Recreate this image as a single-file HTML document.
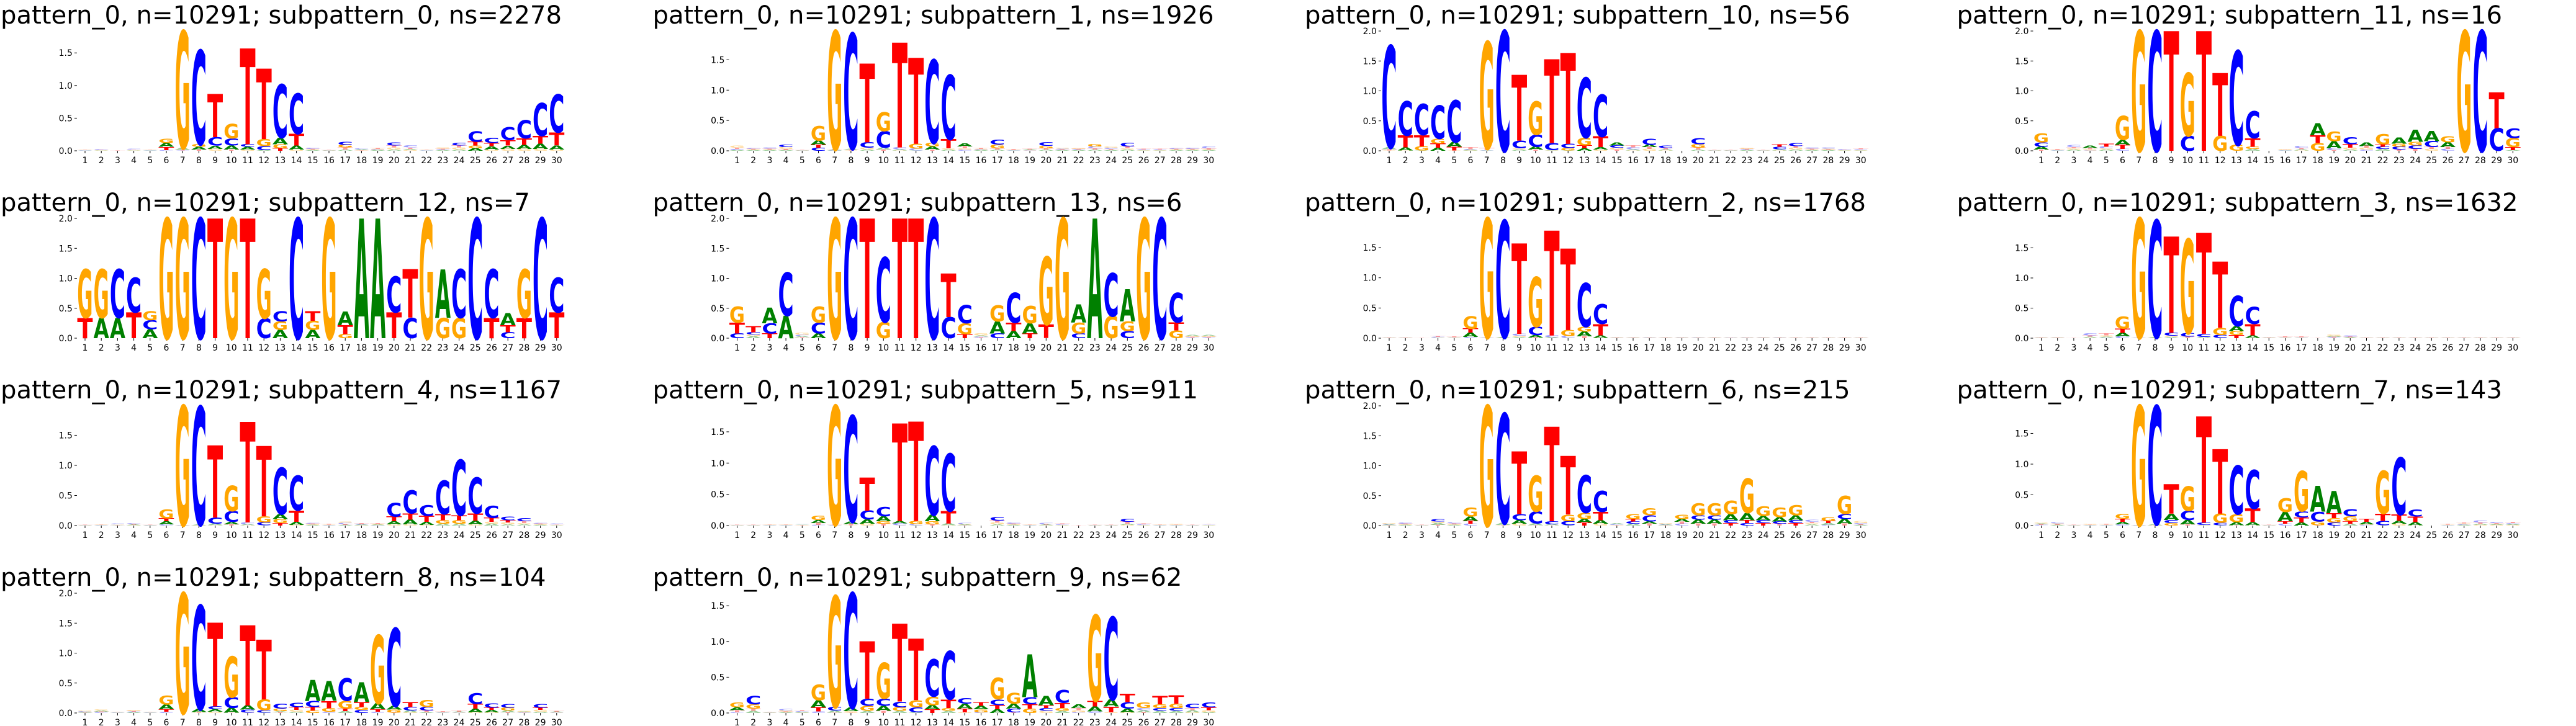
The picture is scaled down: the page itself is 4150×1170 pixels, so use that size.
<!DOCTYPE html>
<html><head><meta charset="utf-8">
<style>
html,body{margin:0;padding:0;background:#fff;}
svg{display:block;}
</style></head>
<body>
<svg id="fig" width="4150" height="1170" xmlns="http://www.w3.org/2000/svg"></svg>
<script>
// Position categories
const positions = [1,2,3,4,5,6,7,8,9,10,11,12,13,14,15,16,17,18,19,20,21,22,23,24,25,26,27,28,29,30];
const letters = ['A','C','G','T'];
const yTickValues = [0, 0.5, 1.0, 1.5, 2.0];
const yTickLabels = ['0.0','0.5','1.0','1.5','2.0'];
const titles = [
 'pattern_0, n=10291; subpattern_0, ns=2278','pattern_0, n=10291; subpattern_1, ns=1926',
 'pattern_0, n=10291; subpattern_10, ns=56','pattern_0, n=10291; subpattern_11, ns=16',
 'pattern_0, n=10291; subpattern_12, ns=7','pattern_0, n=10291; subpattern_13, ns=6',
 'pattern_0, n=10291; subpattern_2, ns=1768','pattern_0, n=10291; subpattern_3, ns=1632',
 'pattern_0, n=10291; subpattern_4, ns=1167','pattern_0, n=10291; subpattern_5, ns=911',
 'pattern_0, n=10291; subpattern_6, ns=215','pattern_0, n=10291; subpattern_7, ns=143',
 'pattern_0, n=10291; subpattern_8, ns=104','pattern_0, n=10291; subpattern_9, ns=62'];
// Per-position heights [A, C, G, T] in bits
const sp0 = [[.005,.005,.005,.005],[.005,.01,.005,.005],[.002,.002,.002,.006],[.005,.01,.005,.008],[.004,.004,.004,.008],[.06,.01,.07,.05],[.03,.005,1.79,.01],[.04,1.44,.04,.02],[.05,.13,.03,.66],[.06,.11,.22,.02],[.04,.04,.02,1.47],[.01,.06,.11,1.08],[.10,.82,.06,.04],[.06,.62,.02,.18],[.01,.015,.01,.01],[.003,.003,.003,.008],[.02,.05,.04,.03],[.01,.01,.005,.008],[.01,.01,.01,.012],[.02,.05,.03,.03],[.02,.03,.01,.02],[.005,.005,.005,.008],[.01,.01,.02,.012],[.02,.04,.03,.03],[.04,.16,.04,.06],[.05,.08,.02,.05],[.05,.20,.03,.08],[.06,.28,.03,.10],[.08,.50,.03,.12],[.06,.58,.02,.20]];
const sp1 = [[.01,.02,.03,.02],[.01,.015,.01,.01],[.01,.02,.01,.015],[.01,.04,.03,.02],[.003,.003,.003,.003],[.07,.05,.24,.05],[.01,.005,1.95,.01],[.02,1.9,.005,.01],[.02,.09,.03,1.3],[.03,.27,.31,.02],[.02,.03,.005,1.73],[.005,.03,.08,1.42],[.05,1.37,.06,.02],[.02,1.06,.02,.15],[.05,.02,.02,.03],[.01,.01,.01,.015],[.02,.08,.06,.02],[.005,.005,.005,.01],[.01,.005,.005,.01],[.02,.06,.04,.02],[.01,.015,.015,.01],[.01,.01,.015,.01],[.02,.03,.04,.02],[.015,.02,.02,.015],[.02,.06,.02,.03],[.005,.01,.005,.01],[.005,.01,.005,.01],[.01,.015,.01,.01],[.01,.02,.01,.01],[.01,.03,.01,.02]];
const sp10 = [[.03,1.7,.005,.02],[.05,.57,.005,.2],[.005,.52,.07,.19],[.05,.55,.08,.07],[.08,.70,.005,.06],[.01,.01,.005,.03],[.005,.005,1.78,.03],[0,2.0,0,0],[.02,.13,.02,1.1],[.05,.2,.55,.02],[.005,.12,.005,1.4],[.005,.07,.04,1.52],[.04,1.0,.13,.05],[.04,.70,.02,.18],[.05,.04,.03,.02],[.02,.03,.005,.03],[.04,.10,.03,.03],[.02,.04,.005,.02],[0,0,0,0],[.02,.10,.06,.03],[.003,.003,.003,.003],[.003,.003,.003,.005],[.01,.01,.02,.01],[.003,.003,.003,.005],[.02,.04,.005,.04],[.02,.05,.03,.03],[.01,.02,.01,.015],[.01,.02,.015,.01],[.005,.015,.005,.005],[.005,.015,.005,.015]];
const sp11 = [[.05,.07,.15,.02],[.005,.005,.005,.01],[.02,.03,.02,.02],[.04,.005,.02,.02],[.02,.03,.02,.05],[.08,.03,.4,.07],[0,0,2,0],[0,2,0,0],[0,0,0,2],[0,.25,1.05,0],[0,0,0,2],[0,0,.25,1.05],[0,1.57,.10,0],[.03,.45,.04,.14],[0,0,0,0],[.005,.005,.01,.005],[.02,.03,.005,.02],[.2,0,.13,.13],[.12,.03,.16,.01],[.02,.12,.03,.06],[.06,.02,.03,.03],[.03,.04,.17,.04],[.1,.05,.05,.02],[.2,.06,.06,.03],[.17,.1,.03,.03],[.08,.03,.1,.03],[0,0,2,0],[0,2,0,0],[0,.38,0,.6],[.01,.16,.15,.05]];
const sp12 = [[0,0,.81,.34],[.34,0,.81,0],[.34,.81,0,0],[0,.58,0,.43],[.15,.15,.15,0],[0,0,2,0],[0,0,2,0],[0,2,0,0],[0,0,0,2],[0,0,2,0],[0,0,0,2],[0,.33,.82,0],[.14,.17,.14,0],[0,2,0,0],[.14,0,.15,.16],[0,0,2,0],[.23,0,.07,.15],[2,0,0,0],[2,0,0,0],[0,.6,0,.43],[0,.34,0,.81],[0,0,2,0],[.81,0,.34,0],[0,.81,.34,0],[0,2,0,0],[0,.81,0,.34],[.2,.1,0,.12],[0,0,.81,.34],[0,2,0,0],[0,.58,0,.43]];
const sp13 = [[0,.08,.27,.18],[.03,.04,.03,.10],[.26,.17,0,.08],[.38,.72,0,0],[.02,.02,.03,.015],[.08,.18,.27,0],[0,0,2,0],[0,2,0,0],[0,0,0,2],[0,1.08,.27,0],[0,0,0,2],[0,0,0,2],[0,2,0,0],[0,.35,0,.73],[0,.3,.18,.07],[.02,.015,.03,.01],[.2,.08,.27,0],[.12,.5,0,.14],[.17,0,.29,.08],[0,0,1.13,.23],[0,0,2,0],[.3,.08,.18,0],[2,0,0,0],[0,.72,.37,0],[.54,.12,.16,0],[0,0,2,0],[0,2,0,0],[0,.49,.13,.135],[.02,.01,.015,.01],[.02,.01,.015,.01]];
const sp2 = [[.003,.003,.003,.005],[.003,.003,.003,.008],[.002,.002,.002,.008],[.005,.01,.005,.01],[.005,.005,.005,.01],[.07,.02,.21,.07],[.005,.003,1.97,.005],[.01,1.93,.003,.003],[.02,.03,.02,1.5],[.04,.14,.82,.01],[.01,.03,.003,1.74],[.005,.03,.1,1.35],[.08,.72,.08,.03],[.04,.33,.005,.19],[.005,.005,.005,.005],[.004,.004,.004,.008],[.004,.006,.004,.004],[.004,.004,.004,.006],[.005,.005,.005,.004],[.004,.006,.004,.004],[.004,.004,.004,.006],[.003,.004,.003,.003],[.006,.006,.006,.004],[.005,.006,.005,.004],[.005,.006,.004,.005],[.003,.003,.003,.003],[.003,.003,.003,.003],[.003,.003,.003,.003],[.003,.003,.003,.003],[.003,.003,.003,.003]];
const sp3 = [[.005,.005,.005,.005],[.005,.005,.005,.005],[.002,.002,.002,.005],[.02,.03,.005,.02],[.02,.005,.02,.03],[.06,.03,.2,.07],[.003,.003,1.98,.003],[.01,1.94,.003,.003],[.02,.05,.02,1.6],[.005,.06,1.56,.02],[.02,.05,.003,1.68],[.003,.05,.12,1.1],[.08,.5,.07,.05],[.04,.28,.005,.19],[.005,.005,.005,.005],[.005,.005,.005,.01],[.005,.008,.005,.01],[.002,.002,.002,.008],[.02,.01,.02,.01],[.01,.02,.005,.01],[.003,.003,.003,.003],[.003,.003,.003,.003],[.003,.003,.003,.003],[.003,.003,.003,.003],[.003,.003,.003,.004],[.003,.003,.003,.004],[.003,.003,.003,.003],[.003,.003,.003,.003],[.003,.003,.003,.003],[.003,.003,.003,.003]];
const sp4 = [[.003,.003,.003,.003],[.005,.005,.005,.005],[.005,.01,.008,.007],[.01,.015,.005,.01],[.005,.003,.003,.008],[.05,.02,.15,.05],[.003,.003,1.98,.003],[.01,1.96,.003,.003],[.03,.1,.003,1.2],[.04,.18,.42,.02],[.02,.03,.003,1.67],[.003,.05,.1,1.17],[.08,.77,.07,.04],[.05,.58,.01,.19],[.01,.015,.01,.01],[.005,.005,.005,.01],[.01,.02,.02,.015],[.01,.01,.005,.01],[.01,.005,.01,.01],[.05,.23,.02,.08],[.08,.38,.02,.1],[.05,.18,.01,.1],[.03,.56,.06,.1],[.03,.92,.06,.08],[.06,.6,.02,.12],[.03,.2,.03,.07],[.02,.06,.03,.04],[.02,.05,.02,.03],[.01,.015,.01,.01],[.008,.01,.005,.008]];
const sp5 = [[.003,.003,.003,.003],[.003,.003,.003,.003],[.005,.005,.005,.008],[.005,.005,.005,.008],[.008,.008,.005,.005],[.05,.01,.07,.03],[.003,.003,1.9,.01],[.04,1.69,.005,.02],[.07,.14,.03,.53],[.08,.15,.04,.03],[.04,.03,.005,1.56],[.005,.02,.05,1.59],[.1,1.1,.05,.02],[.03,.92,.005,.2],[.01,.02,.01,.005],[.002,.002,.002,.002],[.02,.06,.03,.03],[.01,.02,.01,.01],[.005,.005,.005,.005],[.01,.02,.005,.01],[.005,.01,.005,.01],[.002,.002,.002,.005],[.003,.003,.003,.008],[.003,.003,.003,.008],[.02,.05,.01,.03],[.005,.01,.005,.01],[.005,.005,.005,.008],[.005,.005,.01,.005],[.003,.005,.003,.005],[.005,.008,.005,.008]];
const sp6 = [[.01,.01,.01,.005],[.01,.02,.01,.01],[.003,.003,.003,.003],[.03,.04,.03,.01],[.01,.02,.01,.015],[.07,.03,.15,.05],[0,0,2,0],[.03,1.83,.005,.005],[.06,.1,.03,1.05],[.03,.2,.6,.005],[.02,.05,.003,1.58],[.005,.07,.11,.98],[.06,.63,.1,.05],[.06,.35,.03,.14],[.02,.01,.005,.005],[.03,.04,.08,.04],[.04,.1,.12,.03],[.01,.01,.01,.005],[.05,.03,.07,.03],[.07,.07,.2,.03],[.07,.07,.2,.03],[.1,.05,.22,.04],[.12,.04,.57,.05],[.07,.05,.16,.04],[.07,.04,.16,.03],[.08,.05,.17,.04],[.02,.03,.02,.02],[.03,.01,.06,.04],[.08,.08,.3,.03],[.01,.02,.03,.01]];
const sp7 = [[.015,.01,.015,.01],[.01,.02,.015,.01],[.003,.003,.003,.003],[.005,.005,.01,.005],[.005,.005,.005,.01],[.04,.02,.08,.05],[.003,.003,1.94,.003],[.02,1.92,.003,.003],[.1,.05,.04,.48],[.07,.15,.4,.02],[.005,.04,.003,1.73],[.005,.04,.15,1.05],[.05,.79,.13,.005],[.05,.63,.005,.22],[.003,.003,.003,.003],[.15,.03,.22,.04],[.05,.1,.65,.08],[.42,.16,.06,.005],[.36,.05,.07,.08],[.03,.12,.08,.04],[.04,.01,.01,.05],[.005,.07,.7,.12],[.05,.93,.03,.1],[.05,.12,.005,.09],[.002,.002,.002,.002],[.005,.005,.005,.015],[.01,.01,.015,.015],[.02,.03,.01,.02],[.015,.02,.01,.015],[.015,.015,.01,.02]];
const sp8 = [[.01,.01,.01,.005],[.02,.01,.02,.01],[.005,.005,.005,.008],[.01,.01,.02,.01],[.005,.005,.005,.008],[.08,.02,.15,.04],[0,0,2,0],[.05,1.73,.005,.01],[.04,.05,.02,1.4],[.08,.18,.68,.005],[.07,.05,.005,1.34],[.005,.04,.18,1.0],[.02,.08,.04,.01],[.02,.07,.03,.05],[.35,.1,.04,.06],[.33,.02,.06,.12],[.03,.38,.13,.04],[.33,.05,.05,.08],[.1,.02,1.14,.04],[.06,1.3,.05,.005],[.03,.06,.01,.08],[.01,.06,.12,.03],[.005,.005,.005,.01],[.01,.005,.005,.02],[.06,.18,.01,.08],[.04,.07,.01,.04],[.03,.06,.05,.01],[.01,.005,.01,.005],[.02,.06,.03,.04],[.01,.005,.005,.01]];
const sp9 = [[.04,.01,.07,.03],[.03,.12,.06,.03],[.003,.003,.003,.003],[.01,.02,.015,.01],[.01,.01,.005,.01],[.1,.02,.22,.06],[.03,.05,1.55,.005],[.05,1.6,.02,.005],[.03,.1,.07,.8],[.07,.1,.5,.03],[.03,.08,.05,1.09],[.01,.07,.1,.86],[.06,.52,.12,.05],[.03,.67,.04,.12],[.07,.08,.01,.05],[.05,.01,.04,.05],[.05,.08,.3,.06],[.07,.05,.15,.01],[.6,.1,.06,.06],[.13,.04,.03,.04],[.03,.18,.04,.07],[.05,.01,.03,.03],[.07,.02,1.2,.08],[.1,1.15,.01,.08],[.05,.09,.01,.12],[.03,.03,.08,.01],[.03,.04,.05,.12],[.03,.04,.06,.12],[.03,.06,.01,.03],[.01,.07,.03,.04]];
const panelData = [sp0, sp1, sp10, sp11, sp12, sp13, sp2, sp3, sp4, sp5, sp6, sp7, sp8, sp9];

const NS = 'http://www.w3.org/2000/svg';
const COLORS = {A:'#008000', C:'#0000ff', G:'#ffa500', T:'#ff0000'};
const svg = document.getElementById('fig');
const STEP = 26.2, AX_H = 193;
function mk(tag, attrs, parent){ const e=document.createElementNS(NS,tag); for(const k in attrs) e.setAttribute(k, attrs[k]); parent.appendChild(e); return e; }

const titleEls = [];
panelData.forEach((data, p) => {
  const row = Math.floor(p/4), col = p%4;
  const x0 = 137 + col*1050.5;
  const zero = 243 + row*302;
  const totals = data.map(d => d.reduce((a,b)=>a+b,0));
  const ymax = Math.max(...totals);
  const unit = AX_H / ymax;
  const xs = i => x0 + i*STEP;
  const ys = v => zero - v*unit;
  const g = mk('g', {}, svg);
  
  

  const t = mk('text', {x: x0-136, y: zero-205, 'font-family':'"DejaVu Sans", "Liberation Sans", sans-serif', 'font-size':40, fill:'#000'}, g);
  t.textContent = titles[p];
  
  
  titleEls.push(t);

  const axLeft = x0 - STEP/2;
  yTickValues.forEach((v, k) => {
    if (v > ymax + 0.001) return;
    const y = ys(v);
    const tk = mk('line', {x1: axLeft-4, x2: axLeft, y1: y, y2: y, stroke:'#000', 'stroke-width':1}, g);
    
    
    const lb = mk('text', {x: axLeft-7, y: y+5, 'text-anchor':'end', 'font-family':'"DejaVu Sans", sans-serif', 'font-size':14}, g);
    lb.textContent = yTickLabels[k];
    
    
  });

  positions.forEach((pos, i) => {
    const cx = xs(i);
    const tk = mk('line', {x1: cx, x2: cx, y1: zero, y2: zero+4, stroke:'#000', 'stroke-width':1}, g);
    
    
    const lb = mk('text', {x: cx, y: zero+20, 'text-anchor':'middle', 'font-family':'"DejaVu Sans", sans-serif', 'font-size':14}, g);
    lb.textContent = String(pos);
    
    

    const stack = letters.map((L, j) => [L, data[i][j]]).filter(d => d[1] > 0).sort((a,b)=>a[1]-b[1]);
    let base = 0;
    stack.forEach(([L, h]) => {
      const yb = ys(base), ph = h*unit;
      const el = mk('text', {x:0, y:0, 'font-family':'"DejaVu Sans", "Liberation Sans", sans-serif', 'font-weight':'bold', 'font-size':100,
        textLength: (STEP*0.96).toFixed(2), lengthAdjust:'spacingAndGlyphs', fill: COLORS[L],
        'fill-opacity': h < 0.04 ? 0.4 : 1,
        transform: 'translate(' + (cx - STEP*0.48).toFixed(2) + ',' + yb.toFixed(2) + ') scale(1,' + (ph/73).toFixed(4) + ')'}, g);
      el.textContent = L;
      
      
      base += h;
    });
  });
});
// Scale titles so the first one spans ~904px as in the reference
try {
  const ref = titleEls[0].getComputedTextLength();
  if (ref > 0) {
    const ratio = 904 / ref;
    titleEls.forEach(t => {
      const w = t.getComputedTextLength() * ratio;
      t.setAttribute('textLength', w.toFixed(1));
      t.setAttribute('lengthAdjust', 'spacingAndGlyphs');
    });
  }
} catch (e) {}
</script>
</body></html>
